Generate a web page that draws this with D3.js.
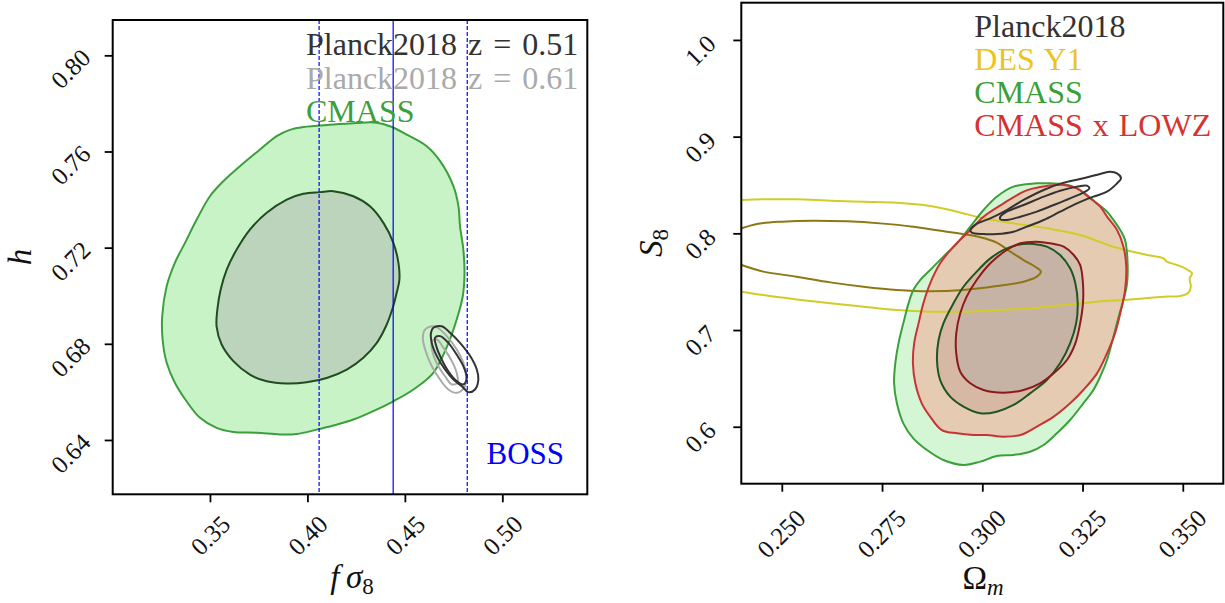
<!DOCTYPE html>
<html>
<head>
<meta charset="utf-8">
<script src="https://cdn.jsdelivr.net/npm/d3@7"></script>
<style>
  html, body { margin: 0; padding: 0; background: #fff; }
  svg text { font-family: "Liberation Serif", "DejaVu Serif", serif; }
</style>
</head>
<body>
<svg id="fig" width="1225" height="603"></svg>
<script>
// ---------------- left panel: f*sigma8 vs h ----------------
const fs8Ticks = [0.35, 0.40, 0.45, 0.50];
const hTicks = [0.64, 0.68, 0.72, 0.76, 0.80];
const fs8Domain = [0.3001, 0.5436];
const hDomain = [0.6174, 0.8147];
const bossFs8 = [0.406, 0.444, 0.482];           // lower, mean, upper
const leftLegend = ["Planck2018 z = 0.51", "Planck2018 z = 0.61", "CMASS"];

const cmassFs8Outer = [[0.3910,0.7690],[0.3979,0.7702],[0.4133,0.7712],[0.4253,0.7719],[0.4356,0.7720],[0.4424,0.7705],[0.4510,0.7670],[0.4612,0.7622],[0.4681,0.7560],[0.4749,0.7456],[0.4775,0.7372],[0.4783,0.7289],[0.4800,0.7192],[0.4806,0.7095],[0.4797,0.6998],[0.4766,0.6901],[0.4724,0.6804],[0.4646,0.6679],[0.4544,0.6610],[0.4441,0.6561],[0.4338,0.6520],[0.4236,0.6485],[0.4133,0.6460],[0.4048,0.6443],[0.3945,0.6425],[0.3859,0.6423],[0.3740,0.6430],[0.3620,0.6433],[0.3534,0.6450],[0.3449,0.6492],[0.3380,0.6561],[0.3320,0.6638],[0.3278,0.6721],[0.3257,0.6818],[0.3255,0.6915],[0.3278,0.7040],[0.3320,0.7137],[0.3372,0.7220],[0.3432,0.7317],[0.3500,0.7414],[0.3568,0.7476],[0.3654,0.7539],[0.3757,0.7608],[0.3842,0.7664]];
const cmassFs8Inner = [[0.4065,0.7431],[0.4133,0.7435],[0.4236,0.7414],[0.4321,0.7372],[0.4390,0.7303],[0.4441,0.7220],[0.4467,0.7137],[0.4472,0.7067],[0.4458,0.7012],[0.4438,0.6950],[0.4403,0.6873],[0.4356,0.6804],[0.4287,0.6742],[0.4202,0.6693],[0.4099,0.6658],[0.3996,0.6640],[0.3894,0.6635],[0.3791,0.6644],[0.3705,0.6672],[0.3620,0.6728],[0.3560,0.6797],[0.3534,0.6873],[0.3538,0.6943],[0.3555,0.7026],[0.3586,0.7109],[0.3637,0.7192],[0.3705,0.7275],[0.3791,0.7345],[0.3894,0.7400],[0.3979,0.7424]];
const planck051Outer = [[0.4646,0.6867],[0.4689,0.6873],[0.4732,0.6846],[0.4783,0.6804],[0.4835,0.6749],[0.4869,0.6693],[0.4877,0.6651],[0.4860,0.6610],[0.4826,0.6599],[0.4792,0.6624],[0.4749,0.6651],[0.4706,0.6693],[0.4664,0.6749],[0.4638,0.6804],[0.4634,0.6846]];
const planck051Inner = [[0.4655,0.6825],[0.4681,0.6832],[0.4723,0.6804],[0.4766,0.6755],[0.4800,0.6707],[0.4818,0.6658],[0.4800,0.6631],[0.4766,0.6645],[0.4723,0.6686],[0.4689,0.6735],[0.4664,0.6783]];
const planck061Outer = [[0.4604,0.6860],[0.4638,0.6873],[0.4664,0.6869],[0.4715,0.6832],[0.4766,0.6776],[0.4800,0.6721],[0.4814,0.6665],[0.4804,0.6617],[0.4766,0.6596],[0.4723,0.6610],[0.4681,0.6651],[0.4638,0.6707],[0.4604,0.6776],[0.4592,0.6825]];
const planck061Inner = [[0.4638,0.6811],[0.4664,0.6818],[0.4698,0.6783],[0.4741,0.6728],[0.4766,0.6679],[0.4770,0.6638],[0.4741,0.6631],[0.4706,0.6665],[0.4672,0.6707],[0.4646,0.6755]];

// ---------------- right panel: Omega_m vs S8 ----------------
const omTicks = [0.250, 0.275, 0.300, 0.325, 0.350];
const s8Ticks = [0.6, 0.7, 0.8, 0.9, 1.0];
const omDomain = [0.2399, 0.3601];
const s8Domain = [0.5411, 1.0385];
const rightLegend = ["Planck2018", "DES Y1", "CMASS", "CMASS x LOWZ"];

const cmassS8Outer = [[0.3136,0.8517],[0.3078,0.8483],[0.3036,0.8379],[0.3003,0.8241],[0.2970,0.8069],[0.2937,0.7897],[0.2903,0.7759],[0.2870,0.7621],[0.2845,0.7517],[0.2828,0.7414],[0.2816,0.7276],[0.2803,0.7069],[0.2791,0.6862],[0.2783,0.6656],[0.2780,0.6449],[0.2787,0.6242],[0.2803,0.6035],[0.2828,0.5880],[0.2862,0.5759],[0.2903,0.5656],[0.2953,0.5604],[0.2995,0.5639],[0.3036,0.5697],[0.3078,0.5708],[0.3119,0.5742],[0.3153,0.5811],[0.3186,0.5932],[0.3219,0.6070],[0.3252,0.6242],[0.3277,0.6380],[0.3294,0.6518],[0.3311,0.6690],[0.3327,0.6931],[0.3340,0.7138],[0.3352,0.7311],[0.3361,0.7483],[0.3362,0.7724],[0.3356,0.7931],[0.3344,0.8034],[0.3327,0.8138],[0.3311,0.8224],[0.3286,0.8310],[0.3261,0.8396],[0.3236,0.8465],[0.3203,0.8510],[0.3169,0.8517]];
const cmassS8Inner = [[0.3128,0.7890],[0.3161,0.7862],[0.3194,0.7776],[0.3219,0.7638],[0.3232,0.7483],[0.3238,0.7276],[0.3234,0.7069],[0.3219,0.6862],[0.3194,0.6656],[0.3161,0.6483],[0.3119,0.6345],[0.3078,0.6225],[0.3036,0.6156],[0.2995,0.6139],[0.2953,0.6208],[0.2920,0.6311],[0.2895,0.6483],[0.2887,0.6690],[0.2891,0.6897],[0.2903,0.7069],[0.2928,0.7276],[0.2953,0.7448],[0.2986,0.7604],[0.3020,0.7741],[0.3053,0.7828],[0.3086,0.7879]];
const lowzS8Outer = [[0.3128,0.8465],[0.3103,0.8431],[0.3053,0.8310],[0.3003,0.8172],[0.2970,0.8034],[0.2928,0.7862],[0.2895,0.7690],[0.2870,0.7483],[0.2853,0.7276],[0.2841,0.7069],[0.2830,0.6862],[0.2827,0.6656],[0.2833,0.6449],[0.2849,0.6242],[0.2870,0.6104],[0.2899,0.5966],[0.2937,0.5932],[0.2978,0.5915],[0.3011,0.5915],[0.3053,0.5897],[0.3095,0.5915],[0.3136,0.6001],[0.3178,0.6104],[0.3219,0.6242],[0.3252,0.6380],[0.3286,0.6552],[0.3311,0.6759],[0.3331,0.6966],[0.3348,0.7242],[0.3356,0.7414],[0.3359,0.7655],[0.3352,0.7862],[0.3336,0.8034],[0.3311,0.8172],[0.3294,0.8276],[0.3269,0.8362],[0.3236,0.8465],[0.3203,0.8500],[0.3161,0.8490]];
const lowzS8Inner = [[0.3136,0.7914],[0.3169,0.7897],[0.3203,0.7862],[0.3228,0.7776],[0.3244,0.7673],[0.3251,0.7483],[0.3251,0.7276],[0.3244,0.7069],[0.3232,0.6862],[0.3211,0.6690],[0.3178,0.6552],[0.3144,0.6449],[0.3103,0.6380],[0.3053,0.6352],[0.3003,0.6380],[0.2970,0.6449],[0.2945,0.6569],[0.2935,0.6759],[0.2935,0.6966],[0.2945,0.7173],[0.2961,0.7345],[0.2986,0.7517],[0.3020,0.7690],[0.3061,0.7828],[0.3095,0.7897]];
const desOuter = [[0.2400,0.8345],[0.2454,0.8352],[0.2537,0.8352],[0.2621,0.8338],[0.2704,0.8327],[0.2787,0.8317],[0.2870,0.8283],[0.2937,0.8224],[0.3003,0.8155],[0.3078,0.8103],[0.3161,0.8052],[0.3244,0.7983],[0.3327,0.7862],[0.3411,0.7776],[0.3452,0.7741],[0.3460,0.7707],[0.3485,0.7673],[0.3510,0.7628],[0.3523,0.7586],[0.3517,0.7535],[0.3520,0.7448],[0.3514,0.7386],[0.3494,0.7352],[0.3452,0.7345],[0.3369,0.7317],[0.3286,0.7293],[0.3203,0.7259],[0.3119,0.7224],[0.3036,0.7207],[0.2953,0.7190],[0.2870,0.7190],[0.2787,0.7207],[0.2704,0.7242],[0.2621,0.7276],[0.2537,0.7317],[0.2454,0.7362],[0.2400,0.7397]];
const desInner = [[0.2400,0.8052],[0.2438,0.8097],[0.2500,0.8121],[0.2579,0.8131],[0.2662,0.8124],[0.2745,0.8103],[0.2828,0.8069],[0.2912,0.8017],[0.2995,0.7959],[0.3036,0.7903],[0.3070,0.7810],[0.3103,0.7724],[0.3132,0.7655],[0.3146,0.7604],[0.3136,0.7552],[0.3103,0.7500],[0.3036,0.7455],[0.2953,0.7414],[0.2870,0.7400],[0.2787,0.7414],[0.2704,0.7448],[0.2621,0.7493],[0.2537,0.7552],[0.2454,0.7604],[0.2400,0.7673]];
const planckS8Outer = [[0.2970,0.8034],[0.2986,0.8097],[0.3020,0.8155],[0.3061,0.8241],[0.3103,0.8345],[0.3153,0.8448],[0.3203,0.8524],[0.3252,0.8569],[0.3294,0.8614],[0.3319,0.8638],[0.3336,0.8620],[0.3346,0.8569],[0.3336,0.8517],[0.3311,0.8431],[0.3277,0.8379],[0.3236,0.8310],[0.3194,0.8224],[0.3153,0.8138],[0.3111,0.8069],[0.3078,0.8017],[0.3036,0.7993],[0.3003,0.7993],[0.2974,0.8007]];
const planckS8Inner = [[0.3045,0.8172],[0.3061,0.8224],[0.3103,0.8293],[0.3153,0.8379],[0.3194,0.8441],[0.3236,0.8483],[0.3261,0.8493],[0.3267,0.8465],[0.3252,0.8421],[0.3219,0.8362],[0.3178,0.8293],[0.3136,0.8224],[0.3095,0.8172],[0.3061,0.8138],[0.3045,0.8145]];

// ---------------- drawing ----------------
const svg = d3.select("#fig");
svg.append("rect").attr("width", 1225).attr("height", 603).attr("fill", "#fff");
const FONT = '"Liberation Serif", "DejaVu Serif", serif';

function panel(id, box, xDom, yDom) {
  const x = d3.scaleLinear().domain(xDom).range([box.l, box.r]);
  const y = d3.scaleLinear().domain(yDom).range([box.b, box.t]);
  svg.append("clipPath").attr("id", id)
    .append("rect").attr("x", box.l).attr("y", box.t)
    .attr("width", box.r - box.l).attr("height", box.b - box.t);
  const g = svg.append("g");
  const plot = g.append("g").attr("clip-path", `url(#${id})`);
  return { x, y, g, plot };
}

function closedPath(P) {
  return d3.line().x(d => P.x(d[0])).y(d => P.y(d[1])).curve(d3.curveCatmullRomClosed.alpha(0.5));
}
function openPath(P) {
  return d3.line().x(d => P.x(d[0])).y(d => P.y(d[1])).curve(d3.curveCatmullRom.alpha(0.5));
}

function frameAndAxes(P, box, xt, yt, fx, fy, xOff, yOff) {
  const ax = P.g.append("g").attr("transform", `translate(0,${box.b})`)
    .call(d3.axisBottom(P.x).tickValues(xt).tickSize(8).tickPadding(0).tickFormat(fx));
  const ay = P.g.append("g").attr("transform", `translate(${box.l},0)`)
    .call(d3.axisLeft(P.y).tickValues(yt).tickSize(8).tickPadding(0).tickFormat(fy));
  [ax, ay].forEach(a => {
    a.select(".domain").remove();
    a.attr("font-family", FONT).attr("font-size", 25);
    a.selectAll(".tick line").attr("stroke", "#000").attr("stroke-width", 1.8);
    a.selectAll(".tick text").attr("fill", "#111").attr("x", null).attr("y", null).attr("dy", null)
      .attr("text-anchor", "middle").attr("dominant-baseline", "central");
  });
  ax.selectAll(".tick text").attr("transform", `translate(${xOff[0]},${xOff[1]}) rotate(-45)`);
  ay.selectAll(".tick text").attr("transform", `translate(${yOff[0]},${yOff[1]}) rotate(-45)`);
  P.g.append("rect").attr("x", box.l).attr("y", box.t)
    .attr("width", box.r - box.l).attr("height", box.b - box.t)
    .attr("fill", "none").attr("stroke", "#000").attr("stroke-width", 2);
}

// ---- left panel ----
const boxL = { l: 112.7, r: 587.3, t: 20, b: 494.3 };
const L = panel("clipL", boxL, fs8Domain, hDomain);
const lc = closedPath(L);

L.plot.append("path").attr("d", lc(cmassFs8Outer)).attr("fill", "#c7f3c7");
L.plot.append("path").attr("d", lc(cmassFs8Inner)).attr("fill", "#bbd4bb");
L.plot.append("path").attr("d", lc(cmassFs8Outer)).attr("fill", "none").attr("stroke", "#3b9f3b").attr("stroke-width", 2);
L.plot.append("path").attr("d", lc(cmassFs8Inner)).attr("fill", "none").attr("stroke", "#1f4d1f").attr("stroke-width", 2);
[planck061Outer, planck061Inner].forEach(c =>
  L.plot.append("path").attr("d", lc(c)).attr("fill", "none").attr("stroke", "#aaaaaa").attr("stroke-width", 2));
[planck051Outer, planck051Inner].forEach(c =>
  L.plot.append("path").attr("d", lc(c)).attr("fill", "none").attr("stroke", "#333333").attr("stroke-width", 2));

const leftColors = ["#333333", "#aaaaaa", "#3b9f3b"];
leftLegend.forEach((t, i) => {
  L.g.append("text").attr("x", 306).attr("y", 54.6 + i * 33.9)
    .attr("font-size", 32).attr("word-spacing", i < 2 ? 3 : 0)
    .attr("fill", leftColors[i]).text(t);
});

// BOSS f*sigma8 mean and 1-sigma band edges
bossFs8.forEach((v, i) => {
  L.plot.append("line").attr("x1", L.x(v)).attr("x2", L.x(v))
    .attr("y1", boxL.t).attr("y2", boxL.b)
    .attr("stroke", "#0000ff").attr("stroke-width", 1.2)
    .attr("stroke-dasharray", i === 1 ? null : "4,2");
});
L.g.append("text").attr("x", 486.5).attr("y", 464).attr("font-size", 31)
  .attr("fill", "#0000ff").text("BOSS");

frameAndAxes(L, boxL, fs8Ticks, hTicks, d3.format(".2f"), d3.format(".2f"), [0, 41], [-42, 13]);

// axis titles
L.g.append("text").attr("x", 352).attr("y", 588).attr("text-anchor", "middle")
  .attr("font-size", 33).attr("fill", "#111")
  .call(t => {
    t.append("tspan").attr("font-style", "italic").text("f\u2009σ");
    t.append("tspan").attr("font-size", 23).attr("dy", 6).text("8");
  });
L.g.append("text").attr("transform", "translate(31,257) rotate(-90)").attr("text-anchor", "middle")
  .attr("font-size", 33).attr("font-style", "italic").attr("fill", "#111").text("h");

// ---- right panel ----
const boxR = { l: 741.3, r: 1223.3, t: 2.7, b: 483.7 };
const R = panel("clipR", boxR, omDomain, s8Domain);
const rc = closedPath(R);
const ro = openPath(R);

R.plot.append("path").attr("d", rc(cmassS8Outer)).attr("fill", "#d5f6d5");
R.plot.append("path").attr("d", rc(cmassS8Inner)).attr("fill", "#bcd4bc");
R.plot.append("path").attr("d", rc(lowzS8Outer)).attr("fill", "rgb(248,150,135)").attr("fill-opacity", 0.45);
R.plot.append("path").attr("d", rc(lowzS8Inner)).attr("fill", "rgb(150,160,170)").attr("fill-opacity", 0.25);

R.plot.append("path").attr("d", ro(desOuter)).attr("fill", "none").attr("stroke", "#d2cc28").attr("stroke-width", 2);
R.plot.append("path").attr("d", ro(desInner)).attr("fill", "none").attr("stroke", "#8c7714").attr("stroke-width", 2);
R.plot.append("path").attr("d", rc(cmassS8Outer)).attr("fill", "none").attr("stroke", "#3b9f3b").attr("stroke-width", 2);
R.plot.append("path").attr("d", rc(cmassS8Inner)).attr("fill", "none").attr("stroke", "#1e561e").attr("stroke-width", 2);
R.plot.append("path").attr("d", rc(lowzS8Outer)).attr("fill", "none").attr("stroke", "#c83434").attr("stroke-width", 2);
R.plot.append("path").attr("d", rc(lowzS8Inner)).attr("fill", "none").attr("stroke", "#8b1a1a").attr("stroke-width", 2);
[planckS8Outer, planckS8Inner].forEach(c =>
  R.plot.append("path").attr("d", rc(c)).attr("fill", "none").attr("stroke", "#333333").attr("stroke-width", 2));

const rightColors = ["#333333", "#ecc41e", "#3b9f3b", "#d63232"];
rightLegend.forEach((t, i) => {
  R.g.append("text").attr("x", 974.3).attr("y", 36.6 + i * 33.1)
    .attr("font-size", 32).attr("word-spacing", 2)
    .attr("fill", rightColors[i]).text(t);
});

frameAndAxes(R, boxR, omTicks, s8Ticks, d3.format(".3f"), d3.format(".1f"), [-1, 50], [-41, 10]);

R.g.append("text").attr("x", 983).attr("y", 589).attr("text-anchor", "middle")
  .attr("font-size", 33).attr("fill", "#111")
  .call(t => {
    t.append("tspan").text("Ω");
    t.append("tspan").attr("font-size", 23).attr("font-style", "italic").attr("dy", 6).text("m");
  });
R.g.append("text").attr("transform", "translate(662,243) rotate(-90)").attr("text-anchor", "middle")
  .attr("font-size", 33).attr("fill", "#111")
  .call(t => {
    t.append("tspan").attr("font-style", "italic").text("S");
    t.append("tspan").attr("font-size", 23).attr("dy", 6).text("8");
  });
</script>
</body>
</html>
